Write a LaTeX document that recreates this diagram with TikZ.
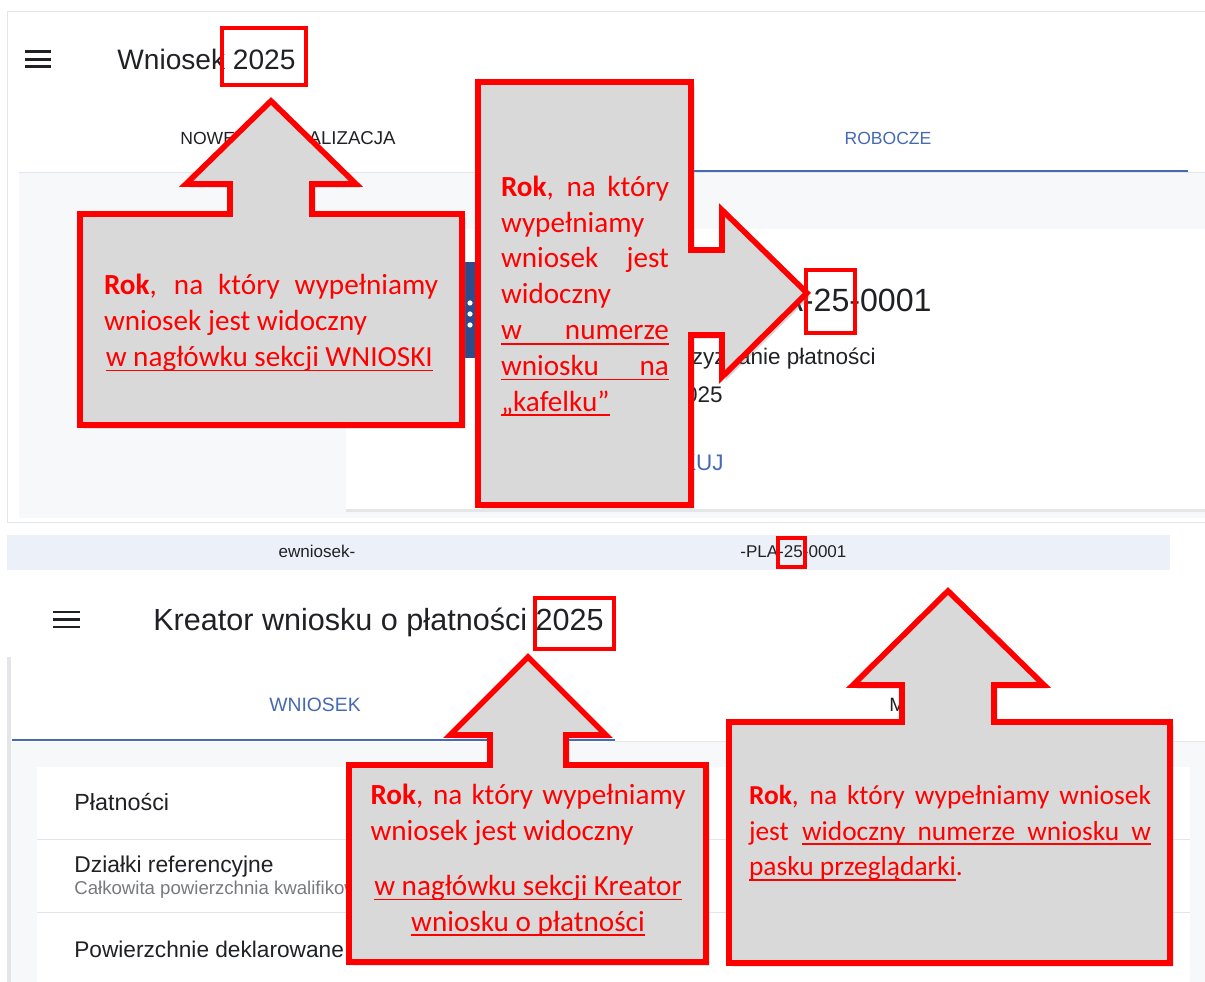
\documentclass[tikz,border=0pt]{standalone}
\usepackage{fontspec}
\setmainfont{Carlito}
\newfontfamily\uifont{Liberation Sans}
\usetikzlibrary{shadows}
\definecolor{calloutred}{RGB}{255,0,0}
\definecolor{calloutgray}{RGB}{217,217,217}
\definecolor{uiblue}{RGB}{70,106,178}
\definecolor{uitext}{RGB}{32,33,36}
\definecolor{uigrey}{RGB}{120,122,126}
\definecolor{uibg}{RGB}{247,248,250}
\definecolor{uiline}{RGB}{228,229,232}
\definecolor{barbg}{RGB}{236,241,249}
\definecolor{fabblue}{RGB}{44,77,140}
\newsavebox\ulsave
\newcommand\ulinebox[1]{\leavevmode\sbox\ulsave{#1}\rlap{\rule[-2.8pt]{\wd\ulsave}{1pt}}\usebox\ulsave}
\newcommand\spreadline[2]{\makebox[#1][s]{#2}}

\tikzset{
  callout/.style={fill=calloutgray, draw=calloutred, line width=3.2pt, line join=miter,
    drop shadow={shadow xshift=2pt, shadow yshift=-2pt, opacity=0.3}},
  calltext/.style={text=calloutred, align=flush left, inner sep=0pt, font=\fontsize{16.6}{20.4}\selectfont},
  highlight/.style={draw=calloutred, line width=2.8pt},
  uilabel/.style={text=uitext, inner sep=0pt},
  cardshadow/.style={drop shadow={shadow xshift=0pt, shadow yshift=-1.5pt, opacity=0.15}},
}

\begin{document}
\begin{tikzpicture}[x=0.02cm, y=-0.02cm] % 1 px = 0.02 cm

\fill[white] (0,0) rectangle (1205,982);
\useasboundingbox (0,0) rectangle (1205,982);

% Ekran 1: lista wnioskow
\draw[uiline, fill=white] (7,11) rectangle (1205,522);
\fill[uibg] (19,172) rectangle (1205,518);
\draw[uiline] (19,172) -- (1205,172);
\draw[uiblue, line width=1.4pt] (590,171) -- (1188,171);
\fill[white, cardshadow] (346,229) rectangle (1205,509);
\fill[fabblue] (470,310) circle[radius=48];
\foreach \y in {303,314,325} \fill[white] (470,\y) circle[radius=2.6];

\foreach \y in {52,59.5,67} \draw[uitext, line width=1.7pt] (25,\y) -- (51,\y);
\node[uilabel, anchor=base west, font=\uifont\fontsize{16}{19}\selectfont] (titlewnioski) at (117,70) {Wniosek 2025};
\node[uilabel, anchor=base west, font=\uifont\fontsize{10}{12}\selectfont] (tabnowe) at (180,145) {NOWE};
\node[uilabel, anchor=base east, font=\uifont\fontsize{10.6}{12}\selectfont] (tabrealizacja) at (396,145) {ALIZACJA};
\node[uilabel, text=uiblue, anchor=base, font=\uifont\fontsize{10}{12}\selectfont] (tabrobocze) at (888,145) {ROBOCZE};

\node[uilabel, anchor=base east, font=\uifont\fontsize{18.3}{22}\selectfont] (numerkafelek) at (932,312) {PLA-25-0001};
\node[uilabel, anchor=base east, font=\uifont\fontsize{12.8}{15}\selectfont] (typkafelek) at (876,365) {Przyznanie płatności};
\node[uilabel, anchor=base east, font=\uifont\fontsize{12.8}{15}\selectfont] (rokkafelek) at (723,403) {2025};
\node[uilabel, text=uiblue, anchor=base east, font=\uifont\fontsize{12.8}{15}\selectfont] (akcjakafelek) at (724,471) {DRUKUJ};

% Ekran 2: kreator
\fill[barbg] (7,535) rectangle (1170,570);
\node[uilabel, anchor=base, font=\uifont\fontsize{9.7}{12}\selectfont] (adresstart) at (317,558) {ewniosek-};
\node[uilabel, anchor=base west, font=\uifont\fontsize{9.7}{12}\selectfont] (adresnumer) at (740,558) {-PLA-25-0001};

\fill[uiline] (7,657) rectangle (11,982);
\fill[uibg] (11,742) rectangle (1205,982);
\draw[uiblue, line width=1.4pt] (12,740) -- (615,740);
\draw[uiline] (615,741) -- (1205,741);
\fill[white, cardshadow] (37,767) rectangle (1190,982);
\foreach \y in {839,912} \draw[uiline] (37,\y) -- (1190,\y);

\foreach \y in {612,619.5,627} \draw[uitext, line width=1.7pt] (53,\y) -- (80,\y);
\node[uilabel, anchor=base west, font=\uifont\fontsize{17.4}{21}\selectfont] (titlekreator) at (153,631) {Kreator wniosku o płatności 2025};
\node[uilabel, text=uiblue, anchor=base, font=\uifont\fontsize{11}{13}\selectfont] (tabwniosek) at (315,712) {WNIOSEK};
\node[uilabel, anchor=base west, font=\uifont\fontsize{11}{13}\selectfont] (tabm) at (889,712) {M};

\node[uilabel, anchor=base west, font=\uifont\fontsize{13.3}{16}\selectfont] (itemplatnosci) at (74,811) {Płatności};
\node[uilabel, anchor=base west, font=\uifont\fontsize{13}{16}\selectfont] (itemdzialki) at (74,873) {Działki referencyjne};
\node[uilabel, text=uigrey, anchor=base west, font=\uifont\fontsize{10.6}{13}\selectfont] (itemopis) at (74,895) {Całkowita powierzchnia kwalifikowana};
\node[uilabel, anchor=base west, font=\uifont\fontsize{12.9}{16}\selectfont] (itempowierzchnie) at (74,958) {Powierzchnie deklarowane};

% Zaznaczenia roku
\draw[highlight] (222,28) rectangle (306,85);
\draw[highlight] (806,270) rectangle (855,333);
\draw[highlight, line width=2.4pt] (535,598) rectangle (614,649);
\draw[highlight, line width=1.8pt] (778,538) rectangle (805,567);

% Objasnienia
\draw[callout] (80,214) -- (230,214) -- (230,184) -- (186,184) -- (271,101) -- (356,184) -- (312,184) -- (312,214) -- (462,214) -- (462,425) -- (80,425) -- cycle;
\draw[callout] (478,82) -- (691,82) -- (691,250) -- (722,250) -- (722,210) -- (807,293) -- (722,377) -- (722,335) -- (691,335) -- (691,505) -- (478,505) -- cycle;
\draw[callout] (349,765) -- (490,765) -- (490,735) -- (450,735) -- (528,657) -- (606,735) -- (566,735) -- (566,765) -- (706,765) -- (706,962) -- (349,962) -- cycle;
\draw[callout] (729,722) -- (902,722) -- (902,685) -- (853,685) -- (948,591) -- (1044,685) -- (994,685) -- (994,722) -- (1170,722) -- (1170,963) -- (729,963) -- cycle;

\node[calltext, text width=6.68cm] (notewnioski) at (271,323) {%
  \spreadline{6.68cm}{\textbf{Rok}, na który wypełniamy}\\
  wniosek jest widoczny\\
  \hspace*{1pt}\ulinebox{w nagłówku sekcji WNIOSKI}};

\node[calltext, text width=3.36cm] (notekafelek) at (585,296) {%
  \spreadline{3.36cm}{\textbf{Rok}, na który}\\
  wypełniamy\\
  \spreadline{3.36cm}{wniosek jest}\\
  widoczny\\
  \ulinebox{\spreadline{3.36cm}{w numerze}}\\
  \ulinebox{\spreadline{3.36cm}{wniosku na}}\\
  \ulinebox{„kafelku”}};

\node[calltext, text width=6.30cm] (notekreator) at (528,860) {%
  \spreadline{6.30cm}{\textbf{Rok}, na który wypełniamy}\\
  wniosek jest widoczny\\[11pt]
  \makebox[6.30cm]{\ulinebox{w nagłówku sekcji Kreator}}\\
  \makebox[6.30cm]{\ulinebox{wniosku o płatności}}};

\node[calltext, text width=8.04cm, font=\fontsize{15.6}{20.4}\selectfont] (noteadres) at (950,833) {%
  \spreadline{8.04cm}{\textbf{Rok}, na który wypełniamy wniosek}\\
  \makebox[8.04cm]{jest\hfill\ulinebox{\spreadline{6.98cm}{widoczny numerze wniosku w}}}\\
  \ulinebox{pasku przeglądarki}.};

\end{tikzpicture}
\end{document}
